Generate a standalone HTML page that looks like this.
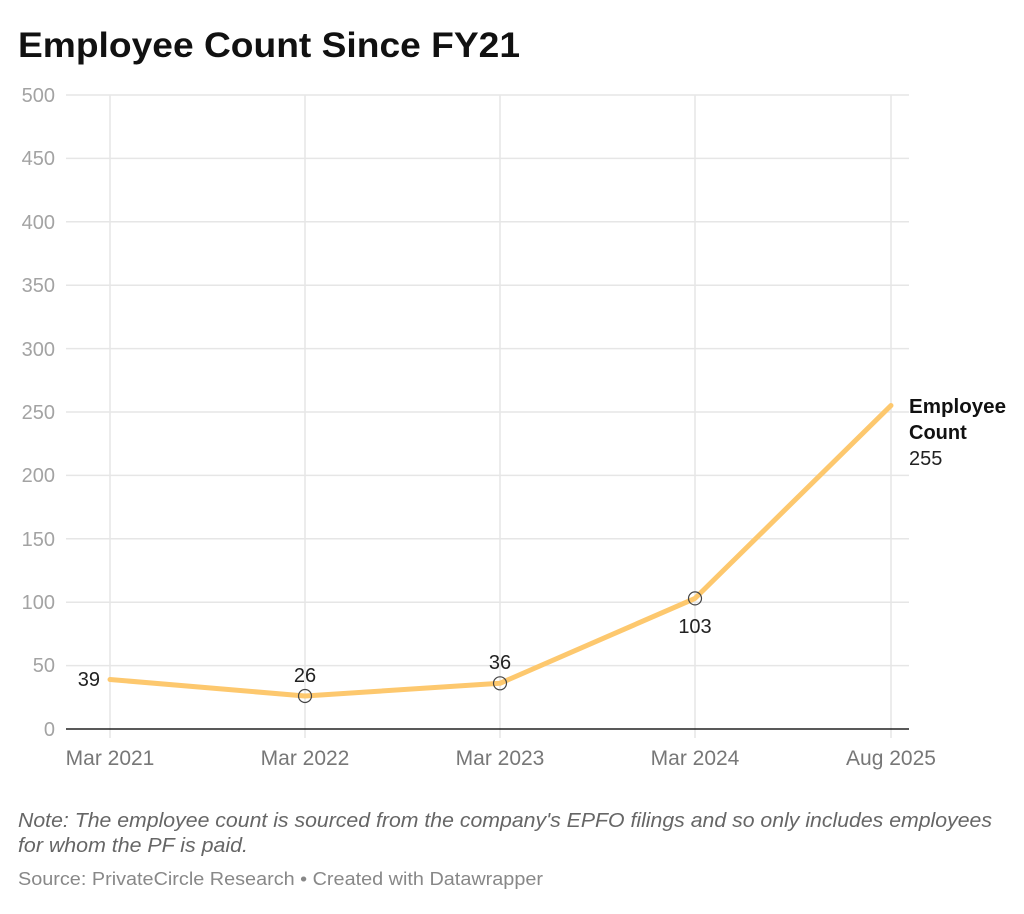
<!DOCTYPE html>
<html><head><meta charset="utf-8"><style>
body{margin:0;background:#fff;width:1024px;height:909px;overflow:hidden;font-family:"Liberation Sans",sans-serif}
</style></head><body>
<svg width="1024" height="909" xmlns="http://www.w3.org/2000/svg" font-family="Liberation Sans, sans-serif">
<text x="18" y="57" font-size="35" font-weight="bold" fill="#111" textLength="502" lengthAdjust="spacingAndGlyphs">Employee Count Since FY21</text>
<g stroke="#e6e6e6" stroke-width="1.5">
<line x1="66" x2="909" y1="95" y2="95"/><line x1="66" x2="909" y1="158.4" y2="158.4"/>
<line x1="66" x2="909" y1="221.8" y2="221.8"/><line x1="66" x2="909" y1="285.2" y2="285.2"/>
<line x1="66" x2="909" y1="348.6" y2="348.6"/><line x1="66" x2="909" y1="412" y2="412"/>
<line x1="66" x2="909" y1="475.4" y2="475.4"/><line x1="66" x2="909" y1="538.8" y2="538.8"/>
<line x1="66" x2="909" y1="602.2" y2="602.2"/><line x1="66" x2="909" y1="665.6" y2="665.6"/>
<line x1="110" x2="110" y1="95" y2="738"/><line x1="305" x2="305" y1="95" y2="738"/>
<line x1="500" x2="500" y1="95" y2="738"/><line x1="695" x2="695" y1="95" y2="738"/>
<line x1="891" x2="891" y1="95" y2="738"/>
</g>
<line x1="66" x2="909" y1="729" y2="729" stroke="#222" stroke-width="1.5"/>
<g font-size="20" fill="#a3a3a3" text-anchor="end">
<text x="55" y="102">500</text><text x="55" y="165">450</text><text x="55" y="229">400</text>
<text x="55" y="292">350</text><text x="55" y="356">300</text><text x="55" y="419">250</text>
<text x="55" y="482">200</text><text x="55" y="546">150</text><text x="55" y="609">100</text>
<text x="55" y="672">50</text><text x="55" y="736">0</text>
</g>
<g font-size="21" fill="#777" text-anchor="middle">
<text x="110" y="765">Mar 2021</text><text x="305" y="765">Mar 2022</text>
<text x="500" y="765">Mar 2023</text><text x="695" y="765">Mar 2024</text>
<text x="891" y="765">Aug 2025</text>
</g>
<polyline points="110,679.5 305,696 500,683.3 695,598.4 891,405.5" fill="none" stroke="#fdc86e" stroke-width="5" stroke-linejoin="round" stroke-linecap="round"/>
<g fill="none" stroke="#444" stroke-width="1.2">
<circle cx="305" cy="696" r="6.5"/><circle cx="500" cy="683.3" r="6.5"/><circle cx="695" cy="598.4" r="6.5"/>
</g>
<g font-size="20" fill="#222">
<text x="100" y="686" text-anchor="end">39</text>
<text x="305" y="682" text-anchor="middle">26</text>
<text x="500" y="669" text-anchor="middle">36</text>
<text x="695" y="633" text-anchor="middle">103</text>
<text x="909" y="465">255</text>
</g>
<g font-size="20" font-weight="bold" fill="#111">
<text x="909" y="413" textLength="97" lengthAdjust="spacingAndGlyphs">Employee</text><text x="909" y="439">Count</text>
</g>
<g font-size="20" fill="#666" font-style="italic">
<text x="18" y="827" textLength="974" lengthAdjust="spacingAndGlyphs">Note: The employee count is sourced from the company's EPFO filings and so only includes employees</text>
<text x="18" y="852" textLength="230" lengthAdjust="spacingAndGlyphs">for whom the PF is paid.</text>
</g>
<text x="18" y="885" font-size="18" fill="#888" textLength="525" lengthAdjust="spacingAndGlyphs">Source: PrivateCircle Research  • Created with Datawrapper</text>
</svg>
</body></html>
